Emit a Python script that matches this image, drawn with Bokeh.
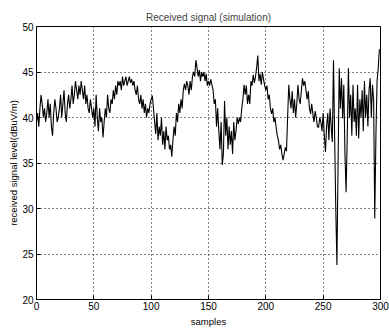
from bokeh.plotting import figure
from bokeh.models import Range1d, FixedTicker
from bokeh.embed import file_html
from bokeh.resources import INLINE

title_text = "Received signal (simulation)"
x_label = "samples"
y_label = "received signal level(dBuV/m)"
x_ticks = [0, 50, 100, 150, 200, 250, 300]
y_ticks = [20, 25, 30, 35, 40, 45, 50]

signal = [
    39.5, 40.5, 39, 41, 42.5, 41.5, 40, 41, 39.5, 40.5,
    42, 40, 41.5, 39, 38, 40.5, 42, 41, 39.5, 40,
    41, 42.5, 40, 41.5, 43, 40.5, 39.5, 41.5, 42.5, 41,
    42, 43.5, 41.5, 42.5, 44, 43, 42, 43.5, 42.5, 44,
    43, 42, 43.5, 41.5, 42.5, 41, 40.5, 42, 41, 40,
    41, 39, 42.5, 40, 38.5, 41, 39.5, 40, 37.8, 39.5,
    41, 40, 42.5, 41, 40.5, 42, 41.5, 43, 42, 43.5,
    42.5, 44, 43.5, 44, 43, 44.5, 43.5, 44, 44.5, 43.5,
    44, 44.5, 43.8, 44.2, 43.5, 44, 43, 42.5, 43.5, 42,
    41.5, 42.5, 41, 42, 40.5, 41.5, 40, 41, 40.5, 41.5,
    42, 42.4, 41, 39.5, 38.2, 40.5, 37.5, 39, 38, 40,
    37, 38.5, 36.5, 39, 37.5, 38, 36.5, 37, 35.7, 37.5,
    39, 38, 40.5, 39.5, 41.5, 40.5, 42, 41, 43, 43.7,
    43, 44, 43.5, 42.5, 44, 43, 44.5, 45, 44.5, 46.3,
    45.5, 44.5, 45.2, 44, 45, 44.5, 45, 44, 44.8, 43.5,
    44, 43.5, 44.2, 43.6, 43, 41.5, 42, 39, 41, 38.5,
    36.5, 39.5, 34.8, 36, 41.8, 38, 40, 36.5, 39, 37,
    38.5, 36, 39.5, 37.5, 38.5, 40, 39.3, 40, 39.5, 41,
    42, 43.6, 42.5, 43.5, 41.5, 42.5, 41.5, 44, 43.5, 44.7,
    43.8, 44.5, 45.5, 46.8, 44, 44.8, 43.6, 45, 44.2, 43.5,
    43, 43.5, 42, 42.5, 41, 40.4, 41, 39.5, 40, 38.9,
    38, 37.5, 36.5, 37, 36, 35.3, 36, 36.7, 36.3, 40,
    43.6, 42, 41, 42.9, 40.5, 42, 40, 41.5, 43.6, 42,
    41.5, 43, 44.3, 43.5, 44, 43, 42, 42.9, 41, 40.4,
    41.5, 40.4, 39.5, 40.7, 40, 39, 38.9, 40, 39.5, 38.5,
    40.5, 38, 36.2, 39, 40.5, 37.5, 41, 39, 37.3, 46.3,
    38, 30, 23.8, 35, 45.4, 41, 44.3, 39.9, 43.6, 36,
    31.8, 38, 45.4, 40, 42.5, 38, 43.6, 39.5, 41, 38,
    43.6, 37.7, 42, 40, 43, 38.5, 44, 40, 42.5, 39,
    43, 44.3, 40, 43.6, 42, 28.9, 38, 44, 45.4, 47.5,
]
samples = list(range(len(signal)))

FONT = "Liberation Sans"

p = figure(
    width=389, height=330,
    frame_width=344, frame_height=273,
    min_border_left=36, min_border_right=9, min_border_top=26, min_border_bottom=31,
    x_range=Range1d(0, 300), y_range=Range1d(20, 50),
    output_backend="svg", toolbar_location=None,
    title=title_text,
)
p.title.align = "center"
p.title.text_font = FONT
p.title.text_font_size = "10px"
p.title.text_font_style = "normal"
p.title.offset = 0
p.title.standoff = 7

p.line(samples, signal, line_color="black", line_width=1.1)

for ax in (p.xaxis[0], p.yaxis[0]):
    ax.major_label_text_font = FONT
    ax.major_label_text_font_size = "10px"
    ax.axis_label_text_font = FONT
    ax.axis_label_text_font_size = "9.5px"
    ax.axis_label_text_font_style = "normal"
    ax.major_tick_in = 4
    ax.major_tick_out = 0
    ax.minor_tick_line_color = None
    ax.axis_line_color = "black"
    ax.major_tick_line_color = "black"
    ax.major_label_text_color = "black"
    ax.axis_label_text_color = "black"

p.xaxis.ticker = FixedTicker(ticks=x_ticks)
p.yaxis.ticker = FixedTicker(ticks=y_ticks)
p.xaxis.axis_label = x_label
p.yaxis.axis_label = y_label
p.xaxis.major_label_standoff = 2
p.yaxis.major_label_standoff = 3
p.xaxis.axis_label_standoff = 3
p.yaxis.axis_label_standoff = 0

p.xgrid.grid_line_color = "black"
p.ygrid.grid_line_color = "black"
p.xgrid.grid_line_dash = "1 3"
p.ygrid.grid_line_dash = "1 3"
p.xgrid.grid_line_width = 1
p.ygrid.grid_line_width = 1

p.outline_line_color = "black"
p.outline_line_width = 1
p.background_fill_color = "white"
p.border_fill_color = "white"

open("out.html", "w").write(file_html(p, INLINE))
